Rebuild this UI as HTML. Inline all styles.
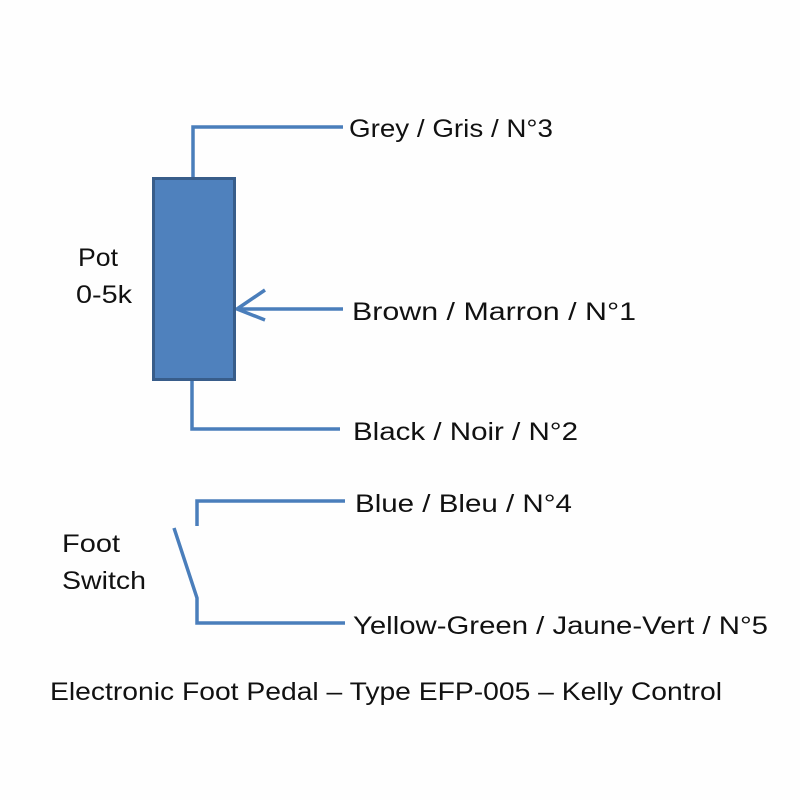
<!DOCTYPE html>
<html><head><style>body{margin:0;background:#fff}svg{display:block}</style></head>
<body>
<svg width="800" height="800" xmlns="http://www.w3.org/2000/svg" font-family="Liberation Sans, sans-serif" font-size="25" fill="#111">
<rect width="800" height="800" fill="#fefefe"/>
<g stroke="#4a7ebb" stroke-width="3.5" fill="none">
<polyline points="343,127 193,127 193,178"/>
<polyline points="192,380 192,429 340,429"/>
<line x1="237" y1="309" x2="343" y2="309"/>
<polyline points="265,290 237,309 265,320"/>
<polyline points="345,501 197,501 197,526"/>
<polyline points="174,528 197,598 197,623 345,623"/>
</g>
<rect x="153.5" y="178.5" width="81" height="201" fill="#4f81bd" stroke="#385d8a" stroke-width="3"/>
<text x="349" y="137" textLength="204" lengthAdjust="spacingAndGlyphs">Grey / Gris / N°3</text>
<text x="352" y="320" textLength="284" lengthAdjust="spacingAndGlyphs">Brown / Marron / N°1</text>
<text x="353" y="440" textLength="225" lengthAdjust="spacingAndGlyphs">Black / Noir / N°2</text>
<text x="355" y="512" textLength="217" lengthAdjust="spacingAndGlyphs">Blue / Bleu / N°4</text>
<text x="353" y="634" textLength="415" lengthAdjust="spacingAndGlyphs">Yellow-Green / Jaune-Vert / N°5</text>
<text x="78" y="266" textLength="40" lengthAdjust="spacingAndGlyphs">Pot</text>
<text x="76" y="303" textLength="56" lengthAdjust="spacingAndGlyphs">0-5k</text>
<text x="62" y="552" textLength="58" lengthAdjust="spacingAndGlyphs">Foot</text>
<text x="62" y="589" textLength="84" lengthAdjust="spacingAndGlyphs">Switch</text>
<text x="50" y="700" textLength="672" lengthAdjust="spacingAndGlyphs">Electronic Foot Pedal – Type EFP-005 – Kelly Control</text>
</svg>
</body></html>
